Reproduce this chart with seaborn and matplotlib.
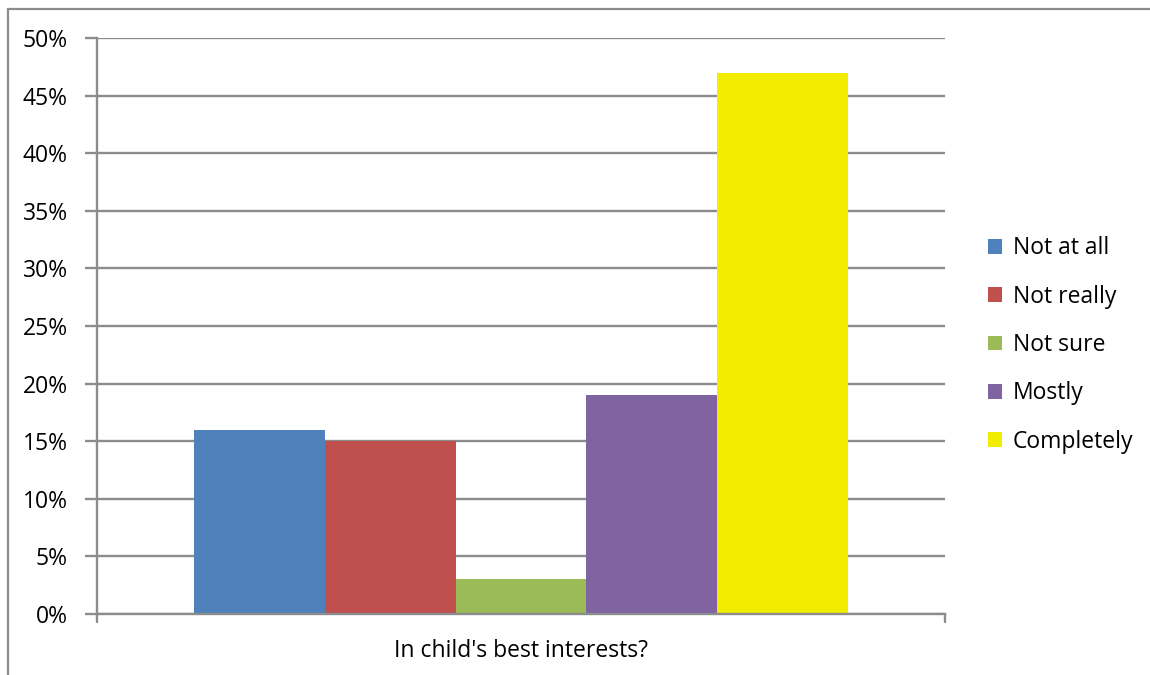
import matplotlib
matplotlib.use("Agg")
import matplotlib.pyplot as plt
from matplotlib.lines import Line2D
from matplotlib.patches import Patch
from matplotlib.ticker import PercentFormatter
import seaborn as sns
import pandas as pd

question = ["In child's best interests?"]
responses = ["Not at all", "Not really", "Not sure", "Mostly", "Completely"]
shares = [16, 15, 3, 19, 47]
colors = ["#4F81BD", "#C0504D", "#9BBB59", "#8064A2", "#F2EC00"]
y_ticks = [0, 5, 10, 15, 20, 25, 30, 35, 40, 45, 50]

df = pd.DataFrame({
    "question": question * len(responses),
    "response": responses,
    "share": shares,
})

sns.set_theme(style="white")
plt.rcParams["font.family"] = ["Open Sans", "DejaVu Sans"]
plt.rcParams["text.color"] = "black"

fig = plt.figure(figsize=(11.5, 6.75), dpi=100)
ax = fig.add_axes([97 / 1150, 1 - 614 / 675, (945 - 97) / 1150, (614 - 38) / 675])

grid_c = "#8C8C8C"
sns.barplot(data=df, x="question", y="share", hue="response",
            hue_order=responses, palette=colors, width=0.771,
            saturation=1, linewidth=0, legend=False, ax=ax, zorder=3)

ax.set_xlim(-0.5, 0.5)
ax.set_ylim(0, 50)
ax.set_yticks(y_ticks)
ax.yaxis.set_major_formatter(PercentFormatter(decimals=0))
ax.yaxis.grid(True, color=grid_c, linewidth=1.7, zorder=0)
ax.set_axisbelow(True)
ax.set_xlabel("")
ax.set_ylabel("")

for side in ["top", "right"]:
    ax.spines[side].set_visible(False)
for side in ["left", "bottom"]:
    ax.spines[side].set_color(grid_c)
    ax.spines[side].set_linewidth(1.7)
    ax.spines[side].set_zorder(4)

ax.tick_params(axis="y", which="major", left=True, length=9, width=1.7,
               color=grid_c, labelsize=16.5, labelcolor="black", pad=12)
ax.tick_params(axis="x", which="major", bottom=False, labelsize=16.5,
               labelcolor="black", pad=12)

# category boundary ticks on the x axis
for xb in (-0.5, 0.5):
    ax.plot([xb, xb], [0, -0.7], color=grid_c, linewidth=1.7,
            clip_on=False, zorder=4)

handles = [Patch(facecolor=c, edgecolor="none") for c in colors]
fig.legend(handles, responses, loc="center left",
           bbox_to_anchor=(988 / 1150, 1 - 345 / 675), frameon=False,
           fontsize=16.5, handlelength=0.62, handleheight=0.62,
           handletextpad=0.45, labelspacing=1.06, borderpad=0,
           borderaxespad=0, labelcolor="black")

# chart area border
fig.add_artist(Line2D([8 / 1150, 1.0], [1 - 9 / 675, 1 - 9 / 675],
                      transform=fig.transFigure, color=grid_c, linewidth=1.6))
fig.add_artist(Line2D([8 / 1150, 8 / 1150], [0.0, 1 - 9 / 675],
                      transform=fig.transFigure, color=grid_c, linewidth=1.6))

fig.savefig("out.png", dpi=100, facecolor="white")
